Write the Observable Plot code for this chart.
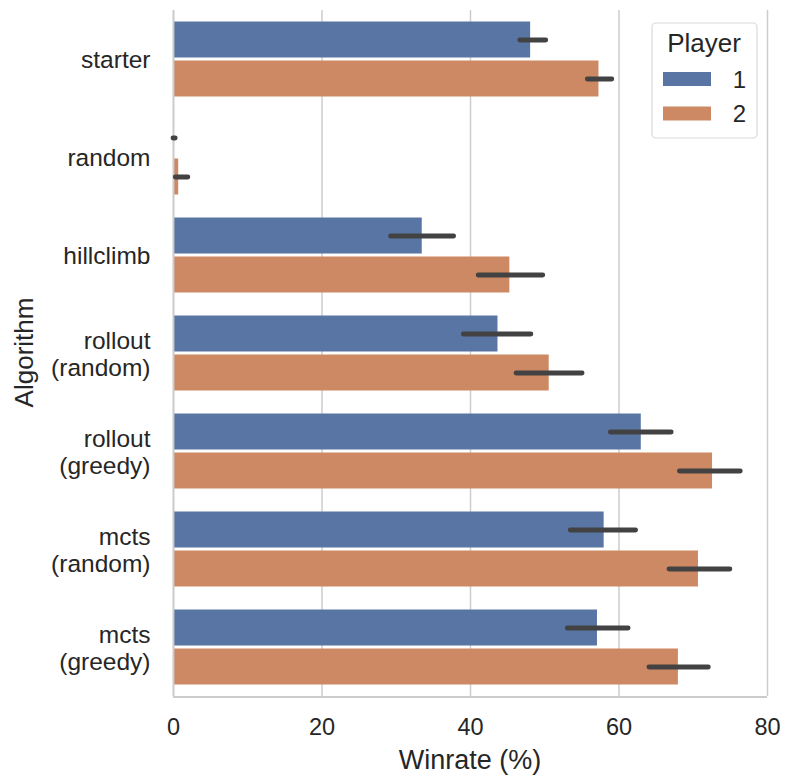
<!DOCTYPE html>
<html>
<head>
<meta charset="utf-8">
<script src="https://cdn.jsdelivr.net/npm/d3@7"></script>
<script src="https://cdn.jsdelivr.net/npm/@observablehq/plot@0.6"></script>
<style>
  html, body { margin: 0; padding: 0; background: #fff; }
  #chart { position: relative; width: 785px; height: 782px; }
  svg { font-family: "Liberation Sans", Arial, sans-serif; }
</style>
</head>
<body>
<div id="chart"></div>
<script>
// ---- data ----
const algorithms = ["starter", "random", "hillclimb", "rollout\n(random)", "rollout\n(greedy)", "mcts\n(random)", "mcts\n(greedy)"];
const players = ["1", "2"];
const winP1 = [48.1, 0.05, 33.5, 43.7, 63.0, 58.0, 57.1];
const winP2 = [57.3, 0.7, 45.3, 50.6, 72.6, 70.7, 68.0];
const ciLowP1 = [46.7, 0.0, 29.3, 39.1, 58.9, 53.5, 53.1];
const ciHighP1 = [50.2, 0.3, 37.8, 48.2, 67.1, 62.3, 61.3];
const ciLowP2 = [55.8, 0.3, 41.1, 46.2, 68.2, 66.8, 64.1];
const ciHighP2 = [59.1, 2.0, 49.8, 55.1, 76.4, 75.0, 72.1];
const xTicks = [0, 20, 40, 60, 80];
const colors = ["#5975a4", "#cc8963"];

const rows = [];
algorithms.forEach((a, i) => {
  rows.push({algorithm: a, player: "1", win: winP1[i], lo: ciLowP1[i], hi: ciHighP1[i]});
  rows.push({algorithm: a, player: "2", win: winP2[i], lo: ciLowP2[i], hi: ciHighP2[i]});
});

const W = 785, H = 782;
const mL = 173, mR = 18, mT = 8, mB = 85;

const plot = Plot.plot({
  width: W,
  height: H,
  marginLeft: mL,
  marginRight: mR,
  marginTop: mT,
  marginBottom: mB,
  style: {fontFamily: '"Liberation Sans", Arial, sans-serif', color: "#262626", background: "#fff"},
  x: {domain: [0, 80], ticks: xTicks},
  y: {domain: players, axis: null, paddingInner: 0, paddingOuter: 0.25},
  fy: {domain: algorithms, padding: 0, label: null},
  color: {domain: players, range: colors},
  marks: [
    Plot.gridX(xTicks, {stroke: "#cccccc", strokeOpacity: 1, strokeWidth: 1.5}),
    Plot.barX(rows, {x: "win", y: "player", fy: "algorithm", fill: "player", insetTop: 1.5, insetBottom: 1.5}),
    Plot.ruleX([0], {stroke: "#cccccc", strokeWidth: 1.8}),
    Plot.ruleY(rows, {y: "player", fy: "algorithm", x1: "lo", x2: "hi", stroke: "#424242", strokeWidth: 4.8, strokeLinecap: "round"}),
    Plot.axisX(xTicks, {tickSize: 0, tickPadding: 22, fontSize: 23.5, label: null, fill: "#262626"}),
    Plot.axisFy({anchor: "left", tickSize: 0, tickPadding: 23, fontSize: 24.5, lineHeight: 1.1, label: null, fill: "#262626"})
  ]
});

const svg = d3.select(plot);
// bottom spine
svg.append("line")
  .attr("x1", mL).attr("x2", W - mR)
  .attr("y1", H - mB).attr("y2", H - mB)
  .attr("stroke", "#cccccc").attr("stroke-width", 1.8);

// axis labels
svg.append("text")
  .attr("x", mL + (W - mL - mR) / 2).attr("y", 769)
  .attr("text-anchor", "middle")
  .attr("font-size", 27).attr("fill", "#262626")
  .text("Winrate (%)");
svg.append("text")
  .attr("transform", `translate(33, ${mT + (H - mT - mB) / 2}) rotate(-90)`)
  .attr("text-anchor", "middle")
  .attr("font-size", 26).attr("fill", "#262626")
  .text("Algorithm");

// legend
const lg = svg.append("g").attr("aria-label", "legend");
lg.append("rect")
  .attr("x", 652).attr("y", 23).attr("width", 105).attr("height", 115)
  .attr("rx", 4).attr("fill", "#fff").attr("fill-opacity", 0.8)
  .attr("stroke", "#d9d9d9").attr("stroke-width", 1.2);
lg.append("text")
  .attr("x", 704).attr("y", 52).attr("text-anchor", "middle")
  .attr("font-size", 26).attr("fill", "#262626").text("Player");
players.forEach((p, i) => {
  const cy = 79 + i * 34.5;
  lg.append("rect")
    .attr("x", 663).attr("y", cy - 7).attr("width", 48).attr("height", 14)
    .attr("fill", colors[i]);
  lg.append("text")
    .attr("x", 746).attr("y", cy + 8.5).attr("text-anchor", "end")
    .attr("font-size", 24).attr("fill", "#262626").text(p);
});

document.getElementById("chart").appendChild(plot);
</script>
</body>
</html>
